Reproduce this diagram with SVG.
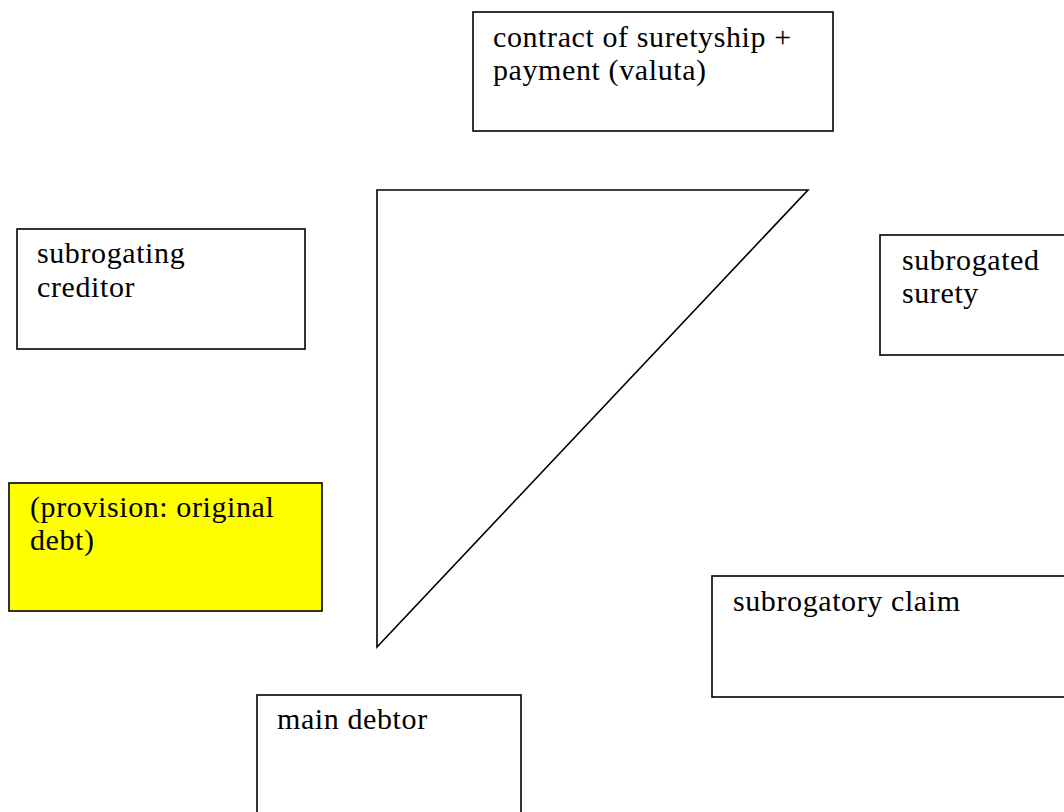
<svg xmlns="http://www.w3.org/2000/svg" width="1064" height="812" viewBox="0 0 1064 812">
<style>
.box{fill:#ffffff;stroke:#000000;stroke-width:1.6}
.yel{fill:#ffff00;stroke:#000000;stroke-width:1.6}
.t{font-family:"Liberation Serif","Times New Roman",serif;font-size:30px;letter-spacing:0.6px;fill:#000000}
.ln{fill:none;stroke:#000000;stroke-width:1.6}
</style>
<rect width="1064" height="812" fill="#ffffff"/>
<g id="connectors">
<polygon class="ln" points="377,190 808,190 377,647"/>
</g>
<g id="contract">
<rect class="box" x="473" y="12" width="360" height="119"/>
<text class="t" x="493" y="46.5">contract of suretyship +</text>
<text class="t" x="493" y="80">payment (valuta)</text>
</g>
<g id="creditor">
<rect class="box" x="17" y="229" width="288" height="120"/>
<text class="t" x="37" y="263">subrogating</text>
<text class="t" x="37" y="296.5">creditor</text>
</g>
<g id="surety">
<rect class="box" x="880" y="235" width="200" height="120"/>
<text class="t" x="902" y="269.5">subrogated</text>
<text class="t" x="902" y="303">surety</text>
</g>
<g id="provision">
<rect class="yel" x="9" y="483" width="313" height="128"/>
<text class="t" x="30" y="516.5">(provision: original</text>
<text class="t" x="30" y="550">debt)</text>
</g>
<g id="claim">
<rect class="box" x="712" y="576" width="370" height="121"/>
<text class="t" x="733" y="611">subrogatory claim</text>
</g>
<g id="debtor">
<rect class="box" x="257" y="695" width="264" height="130"/>
<text class="t" x="277" y="729">main debtor</text>
</g>
</svg>
